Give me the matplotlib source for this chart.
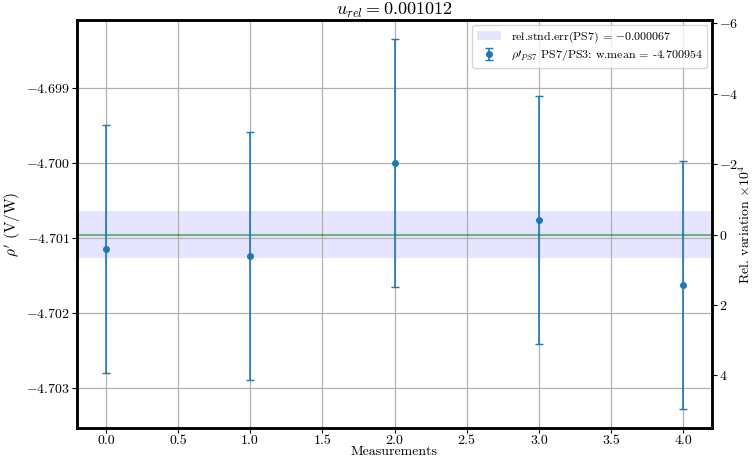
import matplotlib
matplotlib.use("Agg")
import matplotlib.pyplot as plt
import numpy as np

plt.rcParams['font.family'] = 'serif'
plt.rcParams['font.serif'] = ['cmr10', 'DejaVu Serif']
plt.rcParams['mathtext.fontset'] = 'cm'
plt.rcParams['axes.formatter.use_mathtext'] = True
plt.rcParams['axes.unicode_minus'] = True

measurements = [0, 1, 2, 3, 4]
rho_values = [-4.701146, -4.701244, -4.699992, -4.700763, -4.701632]
rho_errors = [0.001659, 0.001656, 0.001657, 0.001659, 0.001659]
w_mean = -4.700954
rel_std_err = -0.000067
u_rel = 0.001012

fig = plt.figure(figsize=(7.53, 4.57), dpi=100)
ax = fig.add_axes([77/753, 1-428/457, (712-77)/753, (428-20)/457])

ax.fill_between([-1, 5], w_mean - abs(rel_std_err*w_mean), w_mean + abs(rel_std_err*w_mean),
                color='b', alpha=0.1, lw=0,
                label=r'rel.stnd.err(PS7) = $-0.000067$')
ax.axhline(w_mean, color='g', alpha=0.5, lw=1.5)
ax.errorbar(measurements, rho_values, yerr=rho_errors, fmt='o', color='tab:blue',
            markersize=4, capsize=3, elinewidth=1.2,
            label=r"$\rho\prime_{PS7}$ PS7/PS3: w.mean = -4.700954")
ax.set_xlim(-0.2, 4.2)
ymin = min(v - e for v, e in zip(rho_values, rho_errors))
ymax = max(v + e for v, e in zip(rho_values, rho_errors))
pad = 0.05 * (ymax - ymin)
ax.set_ylim(ymin - pad, ymax + pad)
ax.grid(True, color='#b0b0b0', lw=0.9)
ax.set_yticks([-4.703, -4.702, -4.701, -4.700, -4.699])
ax.yaxis.set_major_formatter(matplotlib.ticker.FuncFormatter(lambda v, p: r'$%.3f$' % v))
ax.xaxis.set_major_formatter(matplotlib.ticker.FuncFormatter(lambda v, p: '%.1f' % v))
ax.set_xticks(np.arange(0, 4.01, 0.5))
for s in ax.spines.values():
    s.set_linewidth(1.8)
ax.tick_params(labelsize=10, pad=1.5)
ax.set_xlabel('Measurements', fontsize=10, labelpad=-1)
ax.set_ylabel(r"$\rho'$ (V/W)", fontsize=11, labelpad=2)
ax.set_title(r'$u_{rel} = 0.001012$', fontsize=13, pad=2)
leg = ax.legend(loc='upper right', fontsize=8.6, borderaxespad=0.4,
                labelspacing=0.3, borderpad=0.4)

ax2 = ax.twinx()
lo, hi = ax.get_ylim()
ax2.set_ylim((lo - w_mean) / w_mean * 1e4, (hi - w_mean) / w_mean * 1e4)
ax2.yaxis.set_major_formatter(matplotlib.ticker.FuncFormatter(lambda v, p: r'$%d$' % round(v)))
ax2.set_yticks([-6, -4, -2, 0, 2, 4])
ax2.tick_params(labelsize=10, pad=1.5)
ax2.set_ylabel(r'Rel. variation $\times 10^4$', fontsize=10, labelpad=-1)
for s in ax2.spines.values():
    s.set_linewidth(1.8)

fig.savefig('out.png', dpi=100)
